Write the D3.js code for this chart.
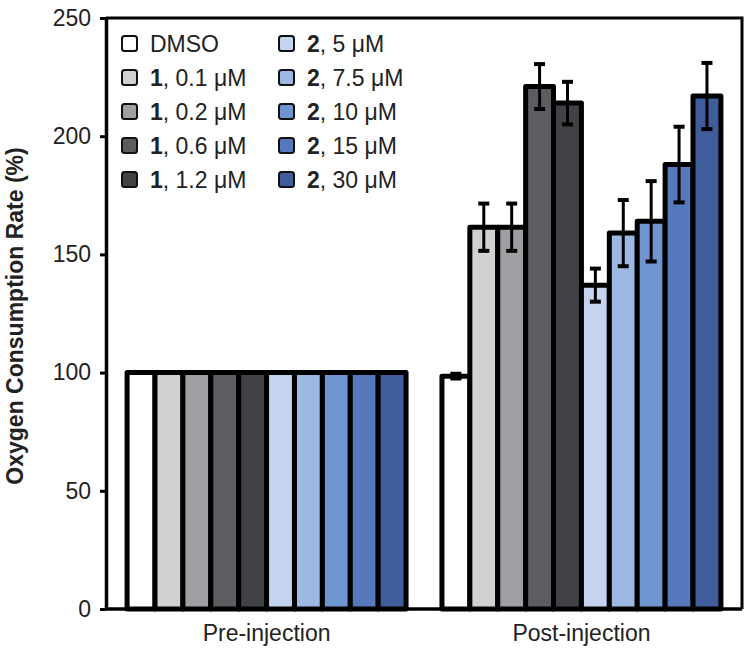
<!DOCTYPE html>
<html>
<head>
<meta charset="utf-8">
<script src="https://cdn.jsdelivr.net/npm/d3@7"></script>
<style>
  body { margin: 0; background: #fff; }
  svg { font-family: "Liberation Sans", Arial, sans-serif; }
</style>
</head>
<body>
<div id="viz"></div>
<script>
'use strict';

// data
var groups = ['Pre-injection', 'Post-injection'];
var compounds = ['DMSO', '1', '1', '1', '1', '2', '2', '2', '2', '2'];
var doses = ['', '0.1 μM', '0.2 μM', '0.6 μM', '1.2 μM', '5 μM', '7.5 μM', '10 μM', '15 μM', '30 μM'];
var preValues = [100, 100, 100, 100, 100, 100, 100, 100, 100, 100];
var preErrors = [0, 0, 0, 0, 0, 0, 0, 0, 0, 0];
var postValues = [98.5, 161.5, 161.5, 221, 214, 137, 159, 164, 188, 217];
var postErrors = [1, 10, 10, 9.5, 9, 7, 14, 17, 16, 14];
var colors = ['#ffffff', '#d0d1d3', '#9d9fa3', '#5b5d61', '#414246',
              '#c4d4ef', '#9db8e3', '#6f95d1', '#5579bc', '#3f5c9b'];
var yTicks = [0, 50, 100, 150, 200, 250];

var width = 750, height = 654;
var margin = {top: 18, right: 8, bottom: 45, left: 106};

var svg = d3.select('#viz').append('svg')
    .attr('width', width)
    .attr('height', height);

var x0 = d3.scaleBand()
    .domain(groups)
    .range([margin.left, width - margin.right])
    .paddingInner(0.114)
    .paddingOuter(0.067);

var x1 = d3.scaleBand()
    .domain(d3.range(compounds.length))
    .range([0, x0.bandwidth()]);

var y = d3.scaleLinear()
    .domain([0, 250])
    .range([height - margin.bottom, margin.top]);

var rows = [];
groups.forEach(function(g, gi) {
    var vals = gi === 0 ? preValues : postValues;
    var errs = gi === 0 ? preErrors : postErrors;
    vals.forEach(function(v, i) {
        rows.push({group: g, i: i, value: v, err: errs[i]});
    });
});

// frame (top and right)
svg.append('path')
    .attr('d', 'M' + margin.left + ',' + y(250) + 'H' + (width - margin.right) + 'V' + y(0))
    .attr('fill', 'none')
    .attr('stroke', '#000')
    .attr('stroke-width', 3);

// bars
svg.append('g').selectAll('rect')
    .data(rows)
    .enter().append('rect')
    .attr('x', function(d) { return x0(d.group) + x1(d.i); })
    .attr('y', function(d) { return y(d.value); })
    .attr('width', x1.bandwidth())
    .attr('height', function(d) { return y(0) - y(d.value); })
    .attr('fill', function(d) { return colors[d.i]; })
    .attr('stroke', '#000')
    .attr('stroke-width', 5)
    .attr('stroke-linejoin', 'round');

// error bars
var eb = svg.append('g')
    .selectAll('g')
    .data(rows.filter(function(d) { return d.err > 0; }))
    .enter().append('g')
    .attr('stroke', '#000')
    .attr('stroke-width', 3);

var cx = function(d) { return x0(d.group) + x1(d.i) + x1.bandwidth() / 2; };
eb.append('line')
    .attr('x1', cx).attr('x2', cx)
    .attr('y1', function(d) { return y(d.value - d.err); })
    .attr('y2', function(d) { return y(d.value + d.err); });
eb.append('line')
    .attr('x1', function(d) { return cx(d) - 5.5; })
    .attr('x2', function(d) { return cx(d) + 5.5; })
    .attr('y1', function(d) { return y(d.value + d.err); })
    .attr('y2', function(d) { return y(d.value + d.err); })
    .attr('stroke-width', 4);
eb.append('line')
    .attr('x1', function(d) { return cx(d) - 5.5; })
    .attr('x2', function(d) { return cx(d) + 5.5; })
    .attr('y1', function(d) { return y(d.value - d.err); })
    .attr('y2', function(d) { return y(d.value - d.err); })
    .attr('stroke-width', 4);

// y axis
var yAxis = svg.append('g')
    .attr('transform', 'translate(' + margin.left + ',0)')
    .call(d3.axisLeft(y).tickValues(yTicks).tickSize(6).tickSizeOuter(0).tickPadding(9));
yAxis.select('.domain').attr('stroke-width', 3.5);
yAxis.selectAll('.tick line').attr('stroke-width', 3);
yAxis.selectAll('.tick text')
    .attr('font-size', 23)
    .attr('font-family', '"Liberation Sans", Arial, sans-serif')
    .attr('fill', '#222');

// x axis
var xAxis = svg.append('g')
    .attr('transform', 'translate(0,' + y(0) + ')')
    .call(d3.axisBottom(x0).tickSize(0).tickPadding(16));
xAxis.select('.domain')
    .attr('d', 'M' + margin.left + ',0H' + (width - margin.right))
    .attr('stroke-width', 3.5);
xAxis.selectAll('.tick text')
    .attr('font-size', 23)
    .attr('font-family', '"Liberation Sans", Arial, sans-serif')
    .attr('fill', '#222');

// y title
svg.append('text')
    .attr('transform', 'translate(23,316) rotate(-90)')
    .attr('text-anchor', 'middle')
    .attr('font-size', 23)
    .attr('font-weight', 'bold')
    .attr('fill', '#222')
    .text('Oxygen Consumption Rate (%)');

// legend
var legend = svg.append('g').selectAll('g')
    .data(compounds.map(function(c, i) { return i; }))
    .enter().append('g')
    .attr('transform', function(i) {
        var col = i < 5 ? 0 : 1;
        var row = i < 5 ? i : i - 5;
        return 'translate(' + (122 + col * 157) + ',' + (44 + row * 34) + ')';
    });

legend.append('rect')
    .attr('x', 0).attr('y', -8)
    .attr('width', 15).attr('height', 15)
    .attr('rx', 2.5)
    .attr('fill', function(i) { return colors[i]; })
    .attr('stroke', '#111')
    .attr('stroke-width', 2);

var lt = legend.append('text')
    .attr('x', 28)
    .attr('y', 8)
    .attr('font-size', 23)
    .attr('fill', '#222');
lt.append('tspan')
    .attr('font-weight', function(i) { return compounds[i] === 'DMSO' ? 'normal' : 'bold'; })
    .text(function(i) { return compounds[i]; });
lt.append('tspan')
    .text(function(i) { return doses[i] ? ', ' + doses[i] : ''; });
</script>
</body>
</html>
